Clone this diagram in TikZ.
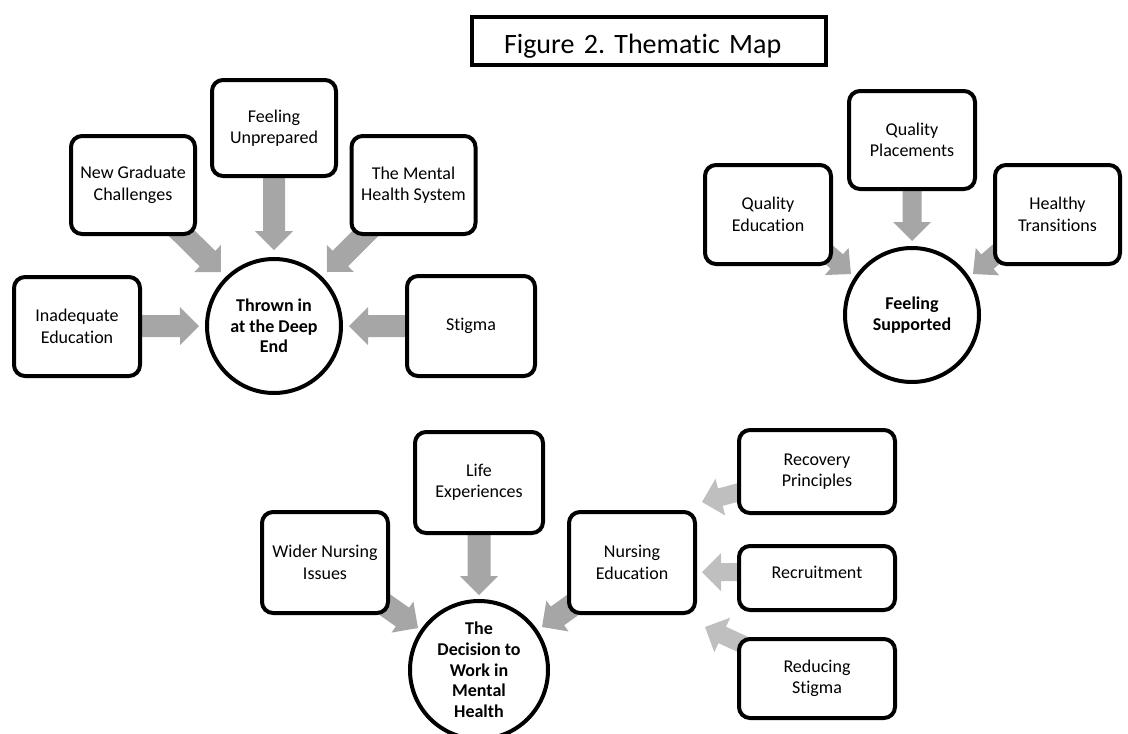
\documentclass[tikz,border=0pt]{standalone}
\usepackage{fontspec}
\setmainfont{Carlito}[Ligatures=NoCommon]
\usetikzlibrary{calc}
\pgfdeclarelayer{bg}
\pgfsetlayers{bg,main}
\definecolor{arrgray}{HTML}{A6A6A6}
\definecolor{arrlight}{HTML}{BFBFBF}
\frenchspacing
% #1 start, #2 tip, #3 half shaft, #4 half head, #5 head length, #6 colour
\newcommand{\blockarr}[6]{%
  \path (#1) coordinate (ba-s) (#2) coordinate (ba-t);
  \coordinate (ba-b) at ($(ba-t)!#5!(ba-s)$);
  \fill[#6] ($(ba-s)!#3!90:(ba-t)$) -- ($(ba-b)!#3!90:(ba-t)$) -- ($(ba-b)!#4!90:(ba-t)$)
    -- (ba-t) -- ($(ba-b)!#4!-90:(ba-t)$) -- ($(ba-b)!#3!-90:(ba-t)$) -- ($(ba-s)!#3!-90:(ba-t)$) -- cycle;
}
\begin{document}
\begin{tikzpicture}[x=1pt,y=-1pt,
  box/.style={draw, line width=4pt, rounded corners=11pt, fill=white, align=center,
    inner sep=0pt, font=\fontsize{18}{21.5}\selectfont},
  circ/.style={draw, circle, line width=4pt, fill=white, align=center, inner sep=0pt,
    minimum size=134pt, font=\fontsize{18}{20.7}\selectfont\bfseries}]
\useasboundingbox (0,0) rectangle (1128,734);

% title
\node[draw, line width=4pt, minimum width=354pt, minimum height=48pt, inner xsep=32pt,
  inner ysep=0pt, text width=290pt, align=left, text height=36pt, text depth=12pt,
  font=\fontsize{28}{34}\selectfont] (title) at (649,41) {Figure 2. Thematic Map};

% group 1
\node[circ] (th) at (274,326) {Thrown in\\at the Deep\\End};
\node[box, minimum width=124pt, minimum height=96pt] (fu) at (274,128) {Feeling\\Unprepared};
\node[box, minimum width=124pt, minimum height=98pt] (ng) at (133,185) {New Graduate\\Challenges};
\node[box, minimum width=124pt, minimum height=98pt] (mh) at (413.5,185) {The Mental\\Health System};
\node[box, minimum width=126pt, minimum height=99pt] (ie) at (77,326.5) {Inadequate\\Education};
\node[box, minimum width=128pt, minimum height=100pt] (st) at (471,326) {Stigma};

% group 2
\node[circ] (fs) at (912,315) {Feeling\\Supported};
\node[box, minimum width=126pt, minimum height=98pt] (qp) at (912,140) {Quality\\Placements};
\node[box, minimum width=126pt, minimum height=99pt] (qe) at (768,214.5) {Quality\\Education};
\node[box, minimum width=125pt, minimum height=99pt] (ht) at (1057.5,214.5) {Healthy\\Transitions};

% group 3
\node[circ, minimum size=138pt] (dw) at (479,670) {The\\Decision to\\Work in\\Mental\\Health};
\node[box, minimum width=128pt, minimum height=101pt] (le) at (479,482.5) {Life\\Experiences};
\node[box, minimum width=126pt, minimum height=101pt] (wn) at (325,562.5) {Wider Nursing\\Issues};
\node[box, minimum width=126pt, minimum height=101pt] (ne) at (632,562.5) {Nursing\\Education};
\node[box, minimum width=156pt, minimum height=83pt] (rp) at (817,471.5) {Recovery\\Principles};
\node[box, minimum width=156pt, minimum height=64pt, text height=12pt, text depth=12pt] (rc) at (817,578) {Recruitment};
\node[box, minimum width=156pt, minimum height=79pt] (rs) at (817,678.5) {Reducing\\Stigma};

\begin{pgfonlayer}{bg}
  \blockarr{fu.center}{$(th.center)+(0,-76)$}{11pt}{19pt}{19pt}{arrgray}
  \blockarr{ng.center}{$(th.center)+(-53,-54)$}{11pt}{19pt}{19pt}{arrgray}
  \blockarr{mh.center}{$(th.center)+(53,-54)$}{11pt}{19pt}{19pt}{arrgray}
  \blockarr{ie.center}{$(th.center)+(-75,0)$}{11pt}{19pt}{19pt}{arrgray}
  \blockarr{st.center}{$(th.center)+(75,0)$}{11pt}{19pt}{19pt}{arrgray}

  \blockarr{qp.center}{$(fs.center)+(0,-74)$}{9.5pt}{19pt}{19pt}{arrgray}
  \blockarr{$(qe.center)+(15,0)$}{$(fs.center)+(-61,-41)$}{9.5pt}{18pt}{19pt}{arrgray}
  \blockarr{$(ht.center)+(-15,0)$}{$(fs.center)+(61,-41)$}{9.5pt}{18pt}{19pt}{arrgray}

  \blockarr{le.center}{$(dw.center)+(0,-75)$}{11.5pt}{19pt}{19pt}{arrgray}
  \blockarr{wn.center}{$(dw.center)+(-61,-42)$}{11.5pt}{19pt}{19pt}{arrgray}
  \blockarr{ne.center}{$(dw.center)+(63,-43)$}{11.5pt}{19pt}{19pt}{arrgray}

  \blockarr{rp.center}{$(ne.center)+(70,-60.5)$}{9pt}{19pt}{19pt}{arrlight}
  \blockarr{$(rc.center)+(0,-6)$}{$(ne.center)+(70,9.5)$}{9pt}{19pt}{19pt}{arrlight}
  \blockarr{rs.center}{$(ne.center)+(73,64.5)$}{9pt}{19pt}{19pt}{arrlight}
\end{pgfonlayer}
\end{tikzpicture}
\end{document}
